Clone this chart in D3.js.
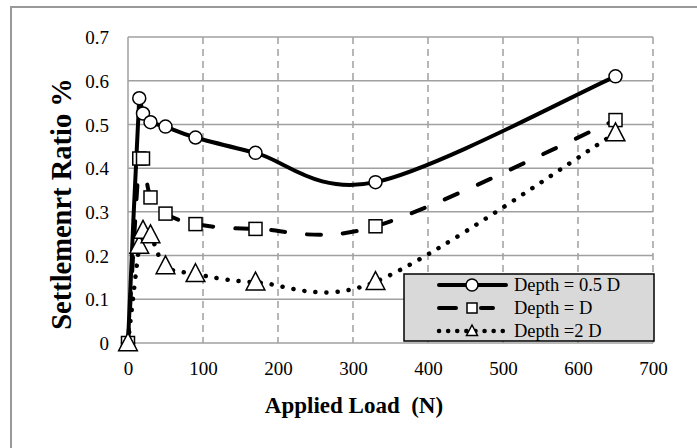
<!DOCTYPE html>
<html>
<head>
<meta charset="utf-8">
<script src="https://cdn.jsdelivr.net/npm/d3@7"></script>
<style>
  body { margin: 0; background: #fff; }
  svg text { font-family: "Liberation Serif", serif !important; fill: #000; }
</style>
</head>
<body>
<div id="chart"></div>
<script>
// applied load (N) for every measurement
const loads = [0, 15, 20, 30, 50, 90, 170, 330, 650];

// settlement ratio % per depth
const depthHalfD = [0, 0.56, 0.525, 0.505, 0.495, 0.47, 0.435, 0.368, 0.61];
const depthD     = [0, 0.422, 0.422, 0.333, 0.296, 0.272, 0.261, 0.267, 0.51];
const depth2D    = [0, 0.223, 0.257, 0.247, 0.176, 0.158, 0.139, 0.14, 0.48];

const seriesNames = ['Depth = 0.5 D', 'Depth = D', 'Depth =2 D'];
const xTicks = [0, 100, 200, 300, 400, 500, 600, 700];
const yTicks = [0, 0.1, 0.2, 0.3, 0.4, 0.5, 0.6, 0.7];

const W = 697, H = 448;
const margin = {top: 37, left: 128, right: 44, bottom: 105};
const width = W - margin.left - margin.right;
const height = H - margin.top - margin.bottom;

const svg = d3.select('#chart').append('svg')
  .attr('width', W).attr('height', H)
  .attr('font-family', '"Liberation Serif", serif');

// outer chart frame
svg.append('rect')
  .attr('x', 11).attr('y', 7)
  .attr('width', W + 20).attr('height', H + 20)
  .attr('fill', 'none').attr('stroke', '#999').attr('stroke-width', 2);

const g = svg.append('g').attr('transform', `translate(${margin.left},${margin.top})`);

const x = d3.scaleLinear().domain([0, 700]).range([0, width]);
const y = d3.scaleLinear().domain([0, 0.7]).range([height, 0]);

// horizontal grid (solid)
g.append('g').selectAll('line').data(yTicks).join('line')
  .attr('x1', 0).attr('x2', width)
  .attr('y1', d => y(d)).attr('y2', d => y(d))
  .attr('stroke', '#a0a0a0').attr('stroke-width', 1.5);

// vertical grid (dashed)
g.append('g').selectAll('line').data(xTicks.slice(1)).join('line')
  .attr('x1', d => x(d)).attr('x2', d => x(d))
  .attr('y1', 0).attr('y2', height)
  .attr('stroke', '#a0a0a0').attr('stroke-width', 1.5)
  .attr('stroke-dasharray', '7,5');

// y axis line
g.append('line')
  .attr('x1', 0).attr('x2', 0).attr('y1', 0).attr('y2', height)
  .attr('stroke', '#a0a0a0').attr('stroke-width', 1.5);

// tick labels
const xAxis = g.append('g').attr('transform', `translate(0,${height})`)
  .call(d3.axisBottom(x).tickValues(xTicks).tickFormat(d3.format('d')).tickSize(0).tickPadding(0));
xAxis.select('.domain').remove();
xAxis.attr('font-family', null).attr('font-size', null);
xAxis.selectAll('text')
  .attr('dy', null).attr('y', 32)
  .style('font-size', '19px');

const yAxis = g.append('g')
  .call(d3.axisLeft(y).tickValues(yTicks).tickFormat(d => d === 0 ? '0' : d3.format('.1f')(d)).tickSize(0).tickPadding(0));
yAxis.select('.domain').remove();
yAxis.attr('font-family', null).attr('font-size', null);
yAxis.selectAll('text')
  .attr('x', -19).attr('dy', '0.35em')
  .style('font-size', '19px');

// axis titles
svg.append('text')
  .attr('x', 354).attr('y', 413)
  .attr('text-anchor', 'middle')
  .style('white-space', 'pre')
  .style('font-size', '23px').style('font-weight', 'bold')
  .text('Applied Load  (N)');

svg.append('text')
  .attr('transform', 'translate(71,204) rotate(-90)')
  .attr('text-anchor', 'middle')
  .style('font-size', '28.5px').style('font-weight', 'bold')
  .text('Settlemenrt Ratio %');

// spreadsheet-style smoothed line (bezier, control arms capped at half the segment)
function smoothPath(pts) {
  const p = pts.map(d => [x(d[0]), y(d[1])]);
  const dist = (a, b) => Math.hypot(a[0] - b[0], a[1] - b[1]);
  const path = d3.path();
  path.moveTo(p[0][0], p[0][1]);
  for (let i = 0; i < p.length - 1; i++) {
    const p0 = p[i - 1] || p[i], p1 = p[i], p2 = p[i + 1], p3 = p[i + 2] || p[i + 1];
    const d12 = dist(p1, p2), d02 = dist(p0, p2), d13 = dist(p1, p3);
    let f = 1 / 6, h = 1 / 6;
    if (d02 / 6 >= d12 / 2 && d02 > 0) f = d12 / (2 * d02);
    if (d13 / 6 >= d12 / 2 && d13 > 0) h = d12 / (2 * d13);
    path.bezierCurveTo(
      p1[0] + (p2[0] - p0[0]) * f, p1[1] + (p2[1] - p0[1]) * f,
      p2[0] - (p3[0] - p1[0]) * h, p2[1] - (p3[1] - p1[1]) * h,
      p2[0], p2[1]);
  }
  return path.toString();
}

const styles = [
  {dash: null, marker: 'circle'},
  {dash: '14,22', marker: 'square'},
  {dash: '0.1,11', marker: 'triangle'}
];

function drawMarker(sel, type, cx, cy, s) {
  if (type === 'circle') {
    sel.append('circle').attr('cx', cx).attr('cy', cy).attr('r', s / 2)
      .attr('fill', '#fff').attr('stroke', '#000').attr('stroke-width', 1.5);
  } else if (type === 'square') {
    sel.append('rect').attr('x', cx - s / 2).attr('y', cy - s / 2)
      .attr('width', s).attr('height', s)
      .attr('fill', '#fff').attr('stroke', '#000').attr('stroke-width', 1.5);
  } else {
    sel.append('path')
      .attr('d', `M${cx},${cy - s * 0.6}L${cx + s * 0.55},${cy + s * 0.45}L${cx - s * 0.55},${cy + s * 0.45}Z`)
      .attr('fill', '#fff').attr('stroke', '#000').attr('stroke-width', 1.5);
  }
}

const allSeries = [depthHalfD, depthD, depth2D];
allSeries.forEach((vals, i) => {
  const pts = loads.map((l, j) => [l, vals[j]]);
  g.append('path')
    .attr('d', smoothPath(pts))
    .attr('fill', 'none').attr('stroke', '#000')
    .attr('stroke-width', i === 2 ? 4.5 : 4)
    .attr('stroke-linecap', 'round').attr('stroke-linejoin', 'round')
    .attr('stroke-dasharray', styles[i].dash);
  const mg = g.append('g');
  pts.forEach(p => drawMarker(mg, styles[i].marker, x(p[0]), y(p[1]), i === 2 ? 17 : 13));
});

// legend
const lg = svg.append('g').attr('transform', 'translate(404,274)');
lg.append('rect').attr('width', 250).attr('height', 67)
  .attr('fill', '#d9d9d9').attr('stroke', '#000').attr('stroke-width', 1.5);
const legendDash = [null, '17,25,12,100', '0.1,9'];
seriesNames.forEach((name, i) => {
  const cy = 11 + i * 23;
  lg.append('line')
    .attr('x1', 35).attr('x2', 102).attr('y1', cy).attr('y2', cy)
    .attr('stroke', '#000').attr('stroke-width', i === 2 ? 4.5 : 4)
    .attr('stroke-linecap', 'round')
    .attr('stroke-dasharray', legendDash[i]);
  drawMarker(lg, styles[i].marker, 68, cy, i === 0 ? 12 : 10);
  lg.append('text')
    .attr('x', 110).attr('y', cy).attr('dy', '0.35em')
    .style('font-size', '18.5px')
    .text(name);
});
</script>
</body>
</html>
